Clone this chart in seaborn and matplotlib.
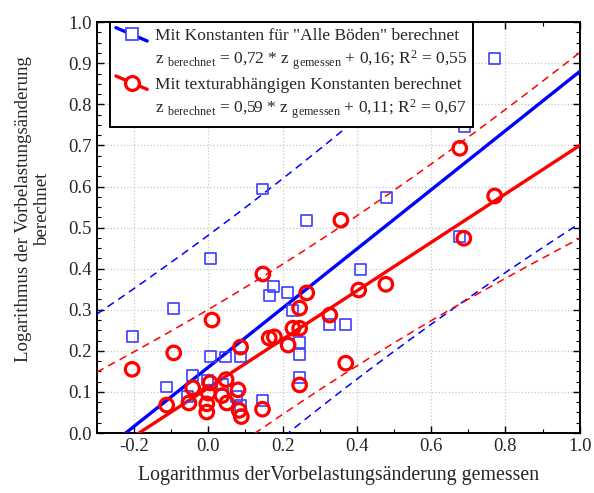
import numpy as np
import matplotlib
matplotlib.use("Agg")
import matplotlib.pyplot as plt
from matplotlib.lines import Line2D
from matplotlib.legend_handler import HandlerBase
from matplotlib.ticker import MultipleLocator
import seaborn as sns

BLUE = "#0000ff"
SQ_BLUE = "#3c3cff"
RED = "#ff0000"

# measured x / calculated y, "Alle Böden" constants (squares)
alle_x = [0.771, 0.690, 0.481, 0.265, 0.410, 0.677, 0.147, 0.007, 0.176, 0.214,
          0.166, -0.093, -0.203, 0.228, 0.246, 0.246, 0.246, 0.007, 0.047, 0.088,
          -0.042, -0.112, -0.001, 0.039, -0.055, 0.077, 0.088, 0.147, 0.327, 0.370]
alle_y = [0.912, 0.747, 0.574, 0.518, 0.397, 0.479, 0.594, 0.425, 0.357, 0.343,
          0.335, 0.304, 0.236, 0.299, 0.221, 0.192, 0.136, 0.186, 0.185, 0.185,
          0.139, 0.112, 0.129, 0.117, 0.088, 0.088, 0.066, 0.080, 0.263, 0.263]

# texture dependent constants (circles)
tex_x = [-0.205, -0.093, 0.010, 0.087, -0.042, -0.112, -0.052, 0.005, 0.048, 0.000,
         -0.004, -0.004, 0.037, 0.050, 0.080, 0.083, 0.089, 0.146, 0.164, 0.178,
         0.215, 0.228, 0.246, 0.246, 0.265, 0.246, 0.327, 0.370, 0.147, 0.357,
         0.405, 0.478, 0.771, 0.677, 0.688]
tex_y = [0.155, 0.195, 0.275, 0.209, 0.110, 0.068, 0.073, 0.122, 0.130, 0.097,
         0.071, 0.051, 0.091, 0.073, 0.105, 0.055, 0.040, 0.058, 0.231, 0.234,
         0.214, 0.255, 0.255, 0.304, 0.341, 0.117, 0.287, 0.170, 0.387, 0.518,
         0.348, 0.362, 0.577, 0.693, 0.474]

# regression (slope, intercept) and prediction band shape (a, b, x_centre)
alle_fit = (0.72, 0.16)
tex_fit = (0.59, 0.11)
alle_band = (0.099, 0.067, 0.25)
tex_band = (0.033, 0.037, 0.30)

x_ticks = [-0.2, 0.0, 0.2, 0.4, 0.6, 0.8, 1.0]
y_ticks = [0.0, 0.1, 0.2, 0.3, 0.4, 0.5, 0.6, 0.7, 0.8, 0.9, 1.0]

sns.set_style("ticks")
plt.rcParams.update({
    "font.family": ["Liberation Serif", "DejaVu Serif"],
    "mathtext.fontset": "custom",
    "mathtext.rm": "Liberation Serif",
    "mathtext.it": "Liberation Serif:italic",
    "font.size": 12.5,
})


class SlopedHandler(HandlerBase):
    # legend handle drawn as a falling line with the marker in the middle
    def create_artists(self, legend, orig, xdescent, ydescent, width, height,
                       fontsize, trans):
        x0, x1 = -xdescent, -xdescent + width
        y0, y1 = -ydescent + height * 1.05, -ydescent - height * 0.05
        ln = Line2D([x0, x1], [y0, y1], color=orig.get_color(),
                    lw=orig.get_linewidth(), transform=trans)
        mk = Line2D([(x0 + x1) / 2], [(y0 + y1) / 2], ls="none",
                    marker=orig.get_marker(), ms=orig.get_markersize(),
                    mfc="white", mec=orig.get_markeredgecolor(),
                    mew=orig.get_markeredgewidth(), transform=trans)
        return [ln, mk]


fig = plt.figure(figsize=(5.94, 4.93), dpi=100)
ax = fig.add_axes([0.163, 0.1217, 0.813, 0.8333])

xs = np.linspace(-0.3, 1.0, 200)
for fit, band, col in [(alle_fit, alle_band, BLUE), (tex_fit, tex_band, RED)]:
    yhat = fit[0] * xs + fit[1]
    w = np.sqrt(band[0] + band[1] * (xs - band[2]) ** 2)
    ax.plot(xs, yhat, color=col, lw=2.4, zorder=3)
    ax.plot(xs, yhat + w, color=col, lw=1.1, ls=(0, (5, 3.5)), zorder=3)
    ax.plot(xs, yhat - w, color=col, lw=1.1, ls=(0, (5, 3.5)), zorder=3)

sns.scatterplot(x=alle_x, y=alle_y, ax=ax, marker="s", s=62,
                facecolor="none", edgecolor=SQ_BLUE, linewidth=1.2, zorder=4)
sns.scatterplot(x=tex_x, y=tex_y, ax=ax, marker="o", s=95,
                facecolor="none", edgecolor=RED, linewidth=2.3, zorder=5)

ax.set_xlim(-0.3, 1.0)
ax.set_ylim(0.0, 1.0)
ax.set_xticks(x_ticks)
ax.set_yticks(y_ticks)
ax.set_xticklabels([f"{v:.1f}" for v in x_ticks])
ax.set_yticklabels([f"{v:.1f}" for v in y_ticks])
ax.xaxis.set_minor_locator(MultipleLocator(0.1))
ax.yaxis.set_minor_locator(MultipleLocator(0.025))
ax.tick_params(which="both", direction="in", top=True, right=True,
               color="black", labelsize=13.5)
ax.tick_params(which="major", length=5, width=1)
ax.tick_params(which="minor", length=3, width=0.8)
ax.grid(True, which="major", color="#c8c8c8", ls=":", lw=0.9)
for sp in ax.spines.values():
    sp.set_color("black")
    sp.set_linewidth(1.4)

ax.set_xlabel("Logarithmus derVorbelastungsänderung gemessen", fontsize=14.3,
              labelpad=8)
ax.set_ylabel("Logarithmus der Vorbelastungsänderung\nberechnet", fontsize=13.6,
              linespacing=1.15)
ax.yaxis.set_label_coords(-0.095, 0.545)

h1 = Line2D([], [], color=BLUE, lw=2.4, marker="s", ms=8, mec=SQ_BLUE, mew=1.2)
h2 = Line2D([], [], ls="none")
h3 = Line2D([], [], color=RED, lw=2.4, marker="o", ms=10, mec=RED, mew=2.3)
h4 = Line2D([], [], ls="none")
labels = [
    'Mit Konstanten für "Alle Böden" berechnet',
    r"z $_{\mathrm{berechnet}}$ = 0,72 * z $_{\mathrm{gemessen}}$ + 0,16; R$^{2}$ = 0,55",
    "Mit texturabhängigen Konstanten berechnet",
    r"z $_{\mathrm{berechnet}}$ = 0,59 * z $_{\mathrm{gemessen}}$ + 0,11; R$^{2}$ = 0,67",
]
leg = ax.legend([h1, h2, h3, h4], labels, loc="upper left",
                bbox_to_anchor=(0.027, 1.0), borderaxespad=0.0,
                handler_map={h1: SlopedHandler(), h3: SlopedHandler()},
                handlelength=1.8, handletextpad=0.45, labelspacing=0.25,
                borderpad=0.35, fancybox=False, framealpha=1.0,
                edgecolor="black", fontsize=12.5)
leg.get_frame().set_linewidth(1.4)
leg.set_zorder(10)

fig.savefig("out.png", dpi=100, facecolor="white")
